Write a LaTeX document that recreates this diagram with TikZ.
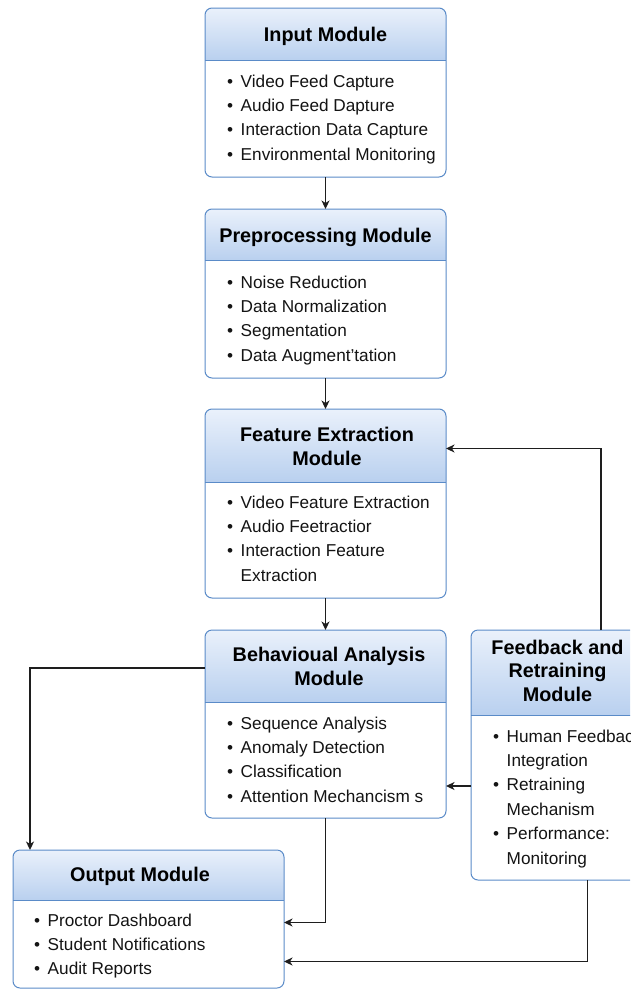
\documentclass[tikz,border=0pt]{standalone}
\usepackage{fontspec}
\setmainfont{Liberation Sans}
\usetikzlibrary{arrows.meta}
\definecolor{bordc}{HTML}{5A8BC8}
\definecolor{htop}{HTML}{EAF1FB}
\definecolor{hbot}{HTML}{B9D0EF}
\definecolor{arrc}{HTML}{1E1E1E}
\tikzset{
  modbox/.style={fill=white, inner sep=0pt, outer sep=0pt, anchor=north west},
  headbox/.style={inner sep=0pt, outer sep=0pt, anchor=north west, top color=htop, bottom color=hbot, draw=none},
  bordline/.style={draw=bordc, line width=1pt},
  ttl/.style={font=\bfseries\fontsize{19.8}{23.3}\selectfont, align=center, inner sep=0pt, anchor=base, text=black},
  lst/.style={font=\fontsize{17.2}{24.4}\selectfont, inner sep=0pt, anchor=base west, text=black!92},
  arr/.style={draw=arrc, line width=1.4pt, -{Stealth[length=8.5pt,width=8pt,inset=2.5pt]}},
}
% name, x1, y1, x2, ydiv, y2
\newcommand\mkmodule[6]{%
  \node[modbox, minimum width={(#4-#2)*1pt}, minimum height={(#6-#3)*1pt}] (#1) at (#2,#3) {};
  \begin{scope}
    \clip[rounded corners=7pt] (#1.north west) rectangle (#1.south east);
    \node[headbox, minimum width={(#4-#2)*1pt}, minimum height={(#5-#3)*1pt}] (#1h) at (#2,#3) {};
  \end{scope}
  \draw[bordline] (#1h.south west) -- (#1h.south east);
  \draw[bordline, rounded corners=7pt] (#1.north west) rectangle (#1.south east);
}
\newcommand\blist[1]{\begin{tabular}[t]{@{}l@{\hspace{7.5pt}}l@{}}#1\end{tabular}}
\begin{document}
\begin{tikzpicture}[x=1pt,y=-1pt]
\useasboundingbox (0,0) rectangle (630,991);
\clip (0,0) rectangle (630,991);

% modules
\mkmodule{inp}{205}{8}{446}{60}{177}
\mkmodule{pre}{205}{209}{446}{260}{378}
\mkmodule{fe}{205}{409}{446}{482}{598}
\mkmodule{beh}{205}{630}{446}{702}{818}
\mkmodule{fb}{471}{630}{644}{715}{880}
\mkmodule{out}{13}{850}{284}{900}{988}

% titles (base = last line)
\node[ttl] (inpt) at (325.5,41) {Input Module};
\node[ttl] (pret) at (325.5,242) {Preprocessing Module};
\node[ttl] (fet) at (327,465) {Feature Extraction\\Module};
\node[ttl] (beht) at (329,685) {Behavioual Analysis\\Module};
\node[ttl] (fbt) at (557.5,701) {Feedback and\\Retraining\\Module};
\node[ttl] (outt) at (140,881.5) {Output Module};

% lists
\node[lst] (inpl) at (227,87) {\blist{\textbullet & Video Feed Capture\\ \textbullet & Audio Feed Dapture\\ \textbullet & Interaction Data Capture\\ \textbullet & Environmental Monitoring}};
\node[lst] (prel) at (227,288) {\blist{\textbullet & Noise Reduction\\ \textbullet & Data Normalization\\ \textbullet & Segmentation\\ \textbullet & Data Augment’tation}};
\node[lst] (fel) at (227,508) {\blist{\textbullet & Video Feature Extraction\\ \textbullet & Audio Feetractior\\ \textbullet & Interaction Feature\\ & Extraction}};
\node[lst] (behl) at (227,729) {\blist{\textbullet & Sequence Analysis\\ \textbullet & Anomaly Detection\\ \textbullet & Classification\\ \textbullet & Attention Mechancism s}};
\node[lst] (fbl) at (493,742) {\blist{\textbullet & Human Feedback\\ & Integration\\ \textbullet & Retraining\\ & Mechanism\\ \textbullet & Performance:\\ & Monitoring}};
\node[lst] (outl) at (34,926) {\blist{\textbullet & Proctor Dashboard\\ \textbullet & Student Notifications\\ \textbullet & Audit Reports}};

% connectors
\draw[arr] (inp.south) -- (pre.north);
\draw[arr] (pre.south) -- (fe.north);
\draw[arr] (fe.south) -- (beh.north);
\draw[arr] ([yshift=-2pt]behh.west) -| ([xshift=17pt]out.north west);
\draw[arr] (beh.south) |- ([yshift=-3.5pt]out.east);
\draw[arr] ([xshift=30pt]fb.south) |- ([yshift=-42.5pt]out.east);
\draw[arr] ([yshift=-31pt]fb.west) -- ([yshift=-31pt]fb.west -| beh.east);
\draw[arr] ([xshift=43.5pt]fb.north) |- ([yshift=55pt]fe.east);
\end{tikzpicture}
\end{document}
